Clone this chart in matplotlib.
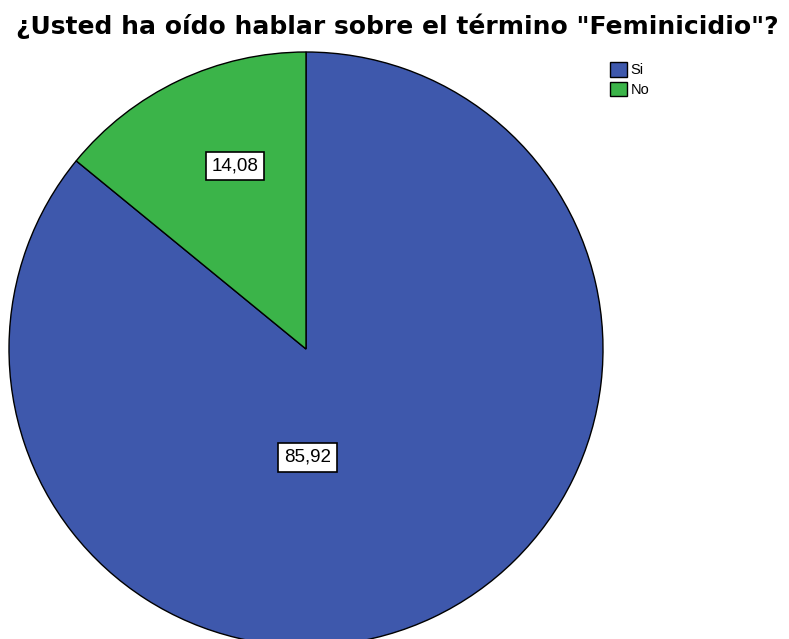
import matplotlib
matplotlib.use('Agg')
import matplotlib.pyplot as plt

plt.rcParams['font.family'] = ['Liberation Sans', 'DejaVu Sans']

categorias = ['Si', 'No']
porcentajes = [85.92, 14.08]
etiquetas = ['85,92', '14,08']
colores = ['#3E58AC', '#3BB449']

fig = plt.figure(figsize=(7.89, 6.39), dpi=100)
ax = fig.add_axes([9/789, -7/639, 594/789, 594/639])

wedges, _ = ax.pie(porcentajes, colors=colores, startangle=90, counterclock=False,
                   radius=1, wedgeprops=dict(edgecolor='black', linewidth=1))
ax.set_xlim(-1, 1)
ax.set_ylim(-1, 1)
ax.set_aspect('equal')

# posiciones de las etiquetas (como en SPSS)
pos = [(0.005, -0.365), (-0.24, 0.615)]
for (x, y), t in zip(pos, etiquetas):
    ax.text(x, y, t, ha='center', va='center', fontsize=13.5,
            bbox=dict(boxstyle='square,pad=0.3', fc='white', ec='black', lw=1.2))

fig.text(0.503, 1 - 34/639, '¿Usted ha oído hablar sobre el término "Feminicidio"?',
         ha='center', va='baseline', fontsize=18, fontweight='bold',
         family=['DejaVu Sans'])

fig.legend(wedges, categorias, loc='upper left', bbox_to_anchor=(600/789, 1 - 52/639),
           frameon=False, fontsize=10.5, handlelength=1.15, handleheight=1.15,
           handletextpad=0.25, labelspacing=0.3, borderpad=0.2)

fig.savefig('out.png', dpi=100)
